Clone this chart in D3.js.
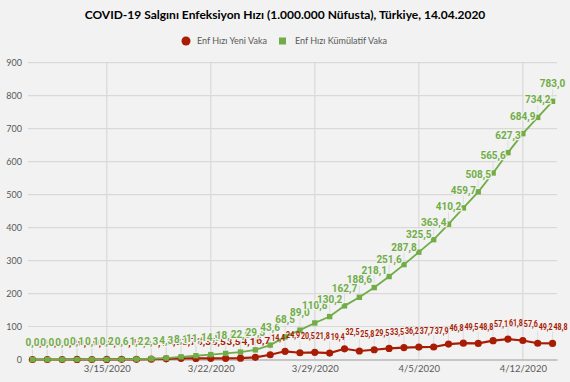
<!DOCTYPE html>
<html>
<head>
<meta charset="utf-8">
<script src="https://cdn.jsdelivr.net/npm/d3@7"></script>
<style>
  body { margin: 0; background: #f2f2f2; }
  svg { display: block; }
</style>
</head>
<body>
<div id="chart"></div>
<script>
// Dates (one point per day)
const dates = [
    "2020-03-10", "2020-03-11", "2020-03-12", "2020-03-13", "2020-03-14", "2020-03-15",
    "2020-03-16", "2020-03-17", "2020-03-18", "2020-03-19", "2020-03-20", "2020-03-21",
    "2020-03-22", "2020-03-23", "2020-03-24", "2020-03-25", "2020-03-26", "2020-03-27",
    "2020-03-28", "2020-03-29", "2020-03-30", "2020-03-31", "2020-04-01", "2020-04-02",
    "2020-04-03", "2020-04-04", "2020-04-05", "2020-04-06", "2020-04-07", "2020-04-08",
    "2020-04-09", "2020-04-10", "2020-04-11", "2020-04-12", "2020-04-13", "2020-04-14"
];

// Enf Hızı Yeni Vaka
const newCases = [
    0.0, 0.0, 0.0, 0.1, 0.0, 0.1, 0.4, 0.6, 1.1, 2.0, 3.7, 3.3,
    3.5, 3.5, 4.1, 6.7, 14.4, 24.9, 20.5, 21.8, 19.4, 32.5, 25.8, 29.5,
    33.5, 36.2, 37.7, 37.9, 46.8, 49.5, 48.8, 57.1, 61.8, 57.6, 49.2, 48.8
];

// Enf Hızı Kümülatif Vaka
const cumulative = [
    0.0, 0.0, 0.0, 0.1, 0.1, 0.2, 0.6, 1.2, 2.3, 4.3, 8.1, 11.4,
    14.9, 18.4, 22.6, 29.3, 43.6, 68.5, 89.0, 110.8, 130.2, 162.7, 188.6, 218.1,
    251.6, 287.8, 325.5, 363.4, 410.2, 459.7, 508.5, 565.6, 627.3, 684.9, 734.2, 783.0
];

// Axis ticks
const xTicks = ["2020-03-15", "2020-03-22", "2020-03-29", "2020-04-05", "2020-04-12"];
const yTicks = [0, 100, 200, 300, 400, 500, 600, 700, 800, 900];

const seriesNames = ["Enf Hızı Yeni Vaka", "Enf Hızı Kümülatif Vaka"];
const title = "COVID-19 Salgını Enfeksiyon Hızı (1.000.000 Nüfusta), Türkiye, 14.04.2020";

const red = "#a81c04";
const green = "#70ad47";
const bg = "#f2f2f2";
const textGrey = "#595959";
const gridGrey = "#d9d9d9";

const width = 570, height = 382;
const margin = { top: 62.7, right: 13, bottom: 22.5, left: 28 };

const parse = d3.timeParse("%Y-%m-%d");
const days = dates.map(parse);
const halfDay = 0.3 * 24 * 3600 * 1000;

const svg = d3.select("#chart").append("svg")
    .attr("width", width)
    .attr("height", height);

svg.append("rect")
    .attr("width", width)
    .attr("height", height)
    .style("fill", bg);

const x = d3.scaleTime()
    .domain([new Date(days[0].getTime() - halfDay), new Date(days[days.length - 1].getTime() + halfDay)])
    .range([margin.left, width - margin.right]);

const y = d3.scaleLinear()
    .domain([0, 900])
    .range([height - margin.bottom, margin.top]);

// Title
svg.append("text")
    .attr("x", 285)
    .attr("y", 19)
    .attr("text-anchor", "middle")
    .style("font-family", "Lato, sans-serif")
    .style("font-weight", "bold")
    .style("font-size", "12px")
    .style("fill", "#000")
    .text(title);

// Legend
const legend = svg.append("g").attr("transform", "translate(0,41)");
legend.append("circle")
    .attr("cx", 186)
    .attr("cy", 0)
    .attr("r", 4.5)
    .style("fill", red);
legend.append("text")
    .attr("x", 197)
    .attr("y", 3.2)
    .style("font-family", "Lato, sans-serif")
    .style("font-size", "9px")
    .style("fill", textGrey)
    .text(seriesNames[0]);
legend.append("rect")
    .attr("x", 279)
    .attr("y", -3.5)
    .attr("width", 7)
    .attr("height", 7)
    .style("fill", green);
legend.append("text")
    .attr("x", 295)
    .attr("y", 3.2)
    .style("font-family", "Lato, sans-serif")
    .style("font-size", "9px")
    .style("fill", textGrey)
    .text(seriesNames[1]);

// Horizontal gridlines
svg.append("g")
    .selectAll("line")
    .data(yTicks.filter(d => d > 0))
    .enter()
    .append("line")
    .attr("x1", margin.left)
    .attr("x2", width - margin.right)
    .attr("y1", d => y(d))
    .attr("y2", d => y(d))
    .style("stroke", gridGrey)
    .style("stroke-width", 1.2);

// Vertical gridlines at the tick dates
svg.append("g")
    .selectAll("line")
    .data(xTicks.map(parse))
    .enter()
    .append("line")
    .attr("x1", d => x(d))
    .attr("x2", d => x(d))
    .attr("y1", y(900))
    .attr("y2", y(0))
    .style("stroke", gridGrey)
    .style("stroke-width", 1.2);

// Y axis labels
const yAxis = svg.append("g")
    .attr("transform", `translate(${margin.left},0)`)
    .call(d3.axisLeft(y).tickValues(yTicks).tickSize(0).tickPadding(6));
yAxis.select(".domain").remove();
yAxis.selectAll("text")
    .style("font-family", "Lato, sans-serif")
    .style("font-size", "9px")
    .style("fill", textGrey);

// X axis
const xAxis = svg.append("g")
    .attr("transform", `translate(0,${y(0)})`)
    .call(d3.axisBottom(x).tickValues(xTicks.map(parse)).tickSize(0).tickPadding(6)
        .tickFormat(d3.timeFormat("%-m/%-d/%Y")));
xAxis.select(".domain")
    .style("stroke", "#9a9a9a")
    .style("stroke-width", 1.2);
xAxis.selectAll("text")
    .style("font-family", "Lato, sans-serif")
    .style("font-size", "9.5px")
    .style("fill", textGrey);

const fmt = v => d3.format(".1f")(v).replace(".", ",");

const redData = days.map((d, i) => ({ date: d, value: newCases[i] }));
const greenData = days.map((d, i) => ({ date: d, value: cumulative[i] }));

const line = d3.line()
    .x(d => x(d.date))
    .y(d => y(d.value));

// Leader lines for the labels
svg.append("g")
    .selectAll("line")
    .data(redData.concat(greenData))
    .enter()
    .append("line")
    .attr("x1", d => x(d.date))
    .attr("x2", d => x(d.date))
    .attr("y1", d => y(d.value) - 12)
    .attr("y2", d => y(d.value) - 4)
    .style("stroke", gridGrey)
    .style("stroke-width", 0.8);

// Red series: line and circle markers
svg.append("path")
    .datum(redData)
    .attr("d", line)
    .style("fill", "none")
    .style("stroke", red)
    .style("stroke-width", 2.2);

svg.append("g")
    .selectAll("circle")
    .data(redData)
    .enter()
    .append("circle")
    .attr("cx", d => x(d.date))
    .attr("cy", d => y(d.value))
    .attr("r", 3.6)
    .style("fill", red);

// Green series: line and square markers
svg.append("path")
    .datum(greenData)
    .attr("d", line)
    .style("fill", "none")
    .style("stroke", green)
    .style("stroke-width", 1.8);

svg.append("g")
    .selectAll("rect")
    .data(greenData)
    .enter()
    .append("rect")
    .attr("x", d => x(d.date) - 2.7)
    .attr("y", d => y(d.value) - 2.7)
    .attr("width", 5.4)
    .attr("height", 5.4)
    .style("fill", green);

// Red labels (shifted to the right of the point)
svg.append("g")
    .selectAll("text")
    .data(redData)
    .enter()
    .append("text")
    .attr("x", d => x(d.date) + 8)
    .attr("y", d => y(d.value) - 13.5)
    .attr("text-anchor", "middle")
    .attr("textLength", 14)
    .attr("lengthAdjust", "spacingAndGlyphs")
    .style("font-family", "Roboto, sans-serif")
    .style("font-weight", "bold")
    .style("font-size", "9px")
    .style("fill", red)
    .text(d => fmt(d.value));

// Green labels (centered above the point, they cover the red ones)
svg.append("g")
    .selectAll("text")
    .data(greenData)
    .enter()
    .append("text")
    .attr("x", d => x(d.date))
    .attr("y", d => y(d.value) - 14)
    .attr("text-anchor", "middle")
    .style("font-family", "Roboto, sans-serif")
    .style("font-weight", "bold")
    .style("font-size", "10px")
    .style("fill", green)
    .style("stroke", bg)
    .style("stroke-width", 2.5)
    .style("paint-order", "stroke")
    .text(d => fmt(d.value));
</script>
</body>
</html>
